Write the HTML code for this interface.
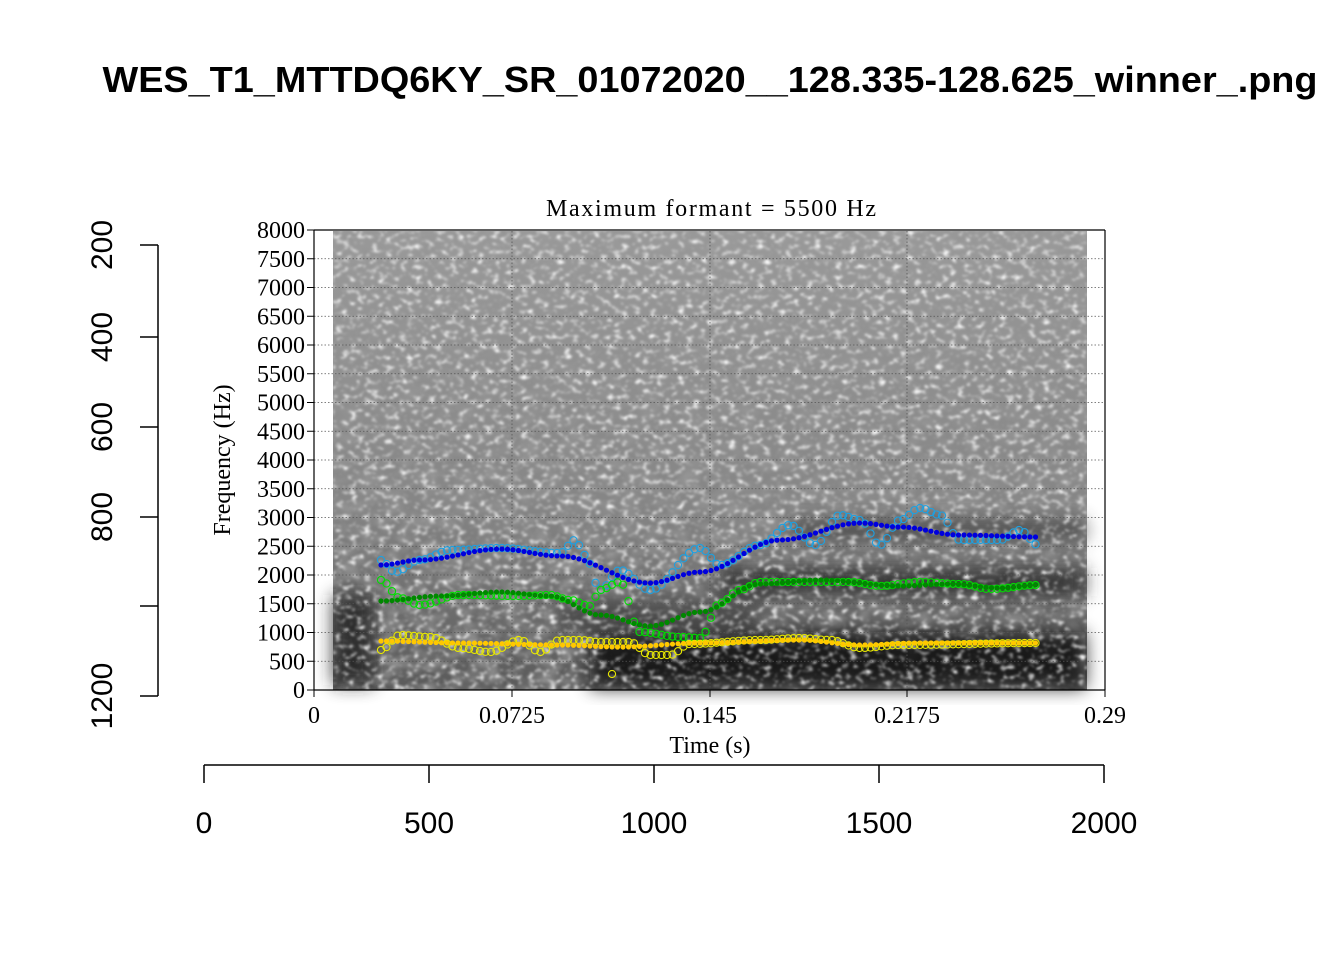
<!DOCTYPE html>
<html><head><meta charset="utf-8"><style>
html,body{margin:0;padding:0;background:#fff;width:1344px;height:960px;overflow:hidden}
svg{display:block}
</style></head><body>
<svg id="s" width="1344" height="960" xmlns="http://www.w3.org/2000/svg">
<defs>
<filter id="noise" x="0" y="0" width="100%" height="100%">
<feTurbulence type="fractalNoise" baseFrequency="0.14 0.2" numOctaves="2" seed="7" result="t"/>
<feColorMatrix in="t" type="matrix" values="0 0 0 0 1  0 0 0 0 1  0 0 0 0 1  3.5 0 0 0 -1.85" />
<feGaussianBlur stdDeviation="1"/>
</filter>
<filter id="noise2" x="0" y="0" width="100%" height="100%">
<feTurbulence type="fractalNoise" baseFrequency="0.05 0.07" numOctaves="2" seed="3" result="t"/>
<feColorMatrix in="t" type="matrix" values="0 0 0 0 0.3  0 0 0 0 0.3  0 0 0 0 0.3  2 0 0 0 -0.8" />
</filter>
<filter id="bl"><feGaussianBlur stdDeviation="9"/></filter>
<linearGradient id="g1" x1="0" y1="0" x2="0" y2="1">
<stop offset="0" stop-color="#9a9a9a"/><stop offset="0.6" stop-color="#858585"/><stop offset="1" stop-color="#5a5a5a"/>
</linearGradient>
</defs>
<text x="710" y="92" font-family="Liberation Sans, sans-serif" font-weight="bold" font-size="36" text-anchor="middle" textLength="1215" lengthAdjust="spacingAndGlyphs">WES_T1_MTTDQ6KY_SR_01072020__128.335-128.625_winner_.png</text>

<g stroke="#000" stroke-width="1.5" fill="none">
<line x1="158" y1="245" x2="158" y2="696"/>
<line x1="140" y1="245" x2="158" y2="245"/><line x1="140" y1="337" x2="158" y2="337"/>
<line x1="140" y1="427" x2="158" y2="427"/><line x1="140" y1="517" x2="158" y2="517"/>
<line x1="140" y1="606" x2="158" y2="606"/><line x1="140" y1="696" x2="158" y2="696"/>
<line x1="204" y1="765" x2="1104" y2="765"/>
<line x1="204" y1="765" x2="204" y2="783"/><line x1="429" y1="765" x2="429" y2="783"/>
<line x1="654" y1="765" x2="654" y2="783"/><line x1="879" y1="765" x2="879" y2="783"/>
<line x1="1104" y1="765" x2="1104" y2="783"/>
</g>
<g font-family="Liberation Sans, sans-serif" font-size="30" fill="#000" text-anchor="middle">
<text transform="translate(112,245) rotate(-90)">200</text>
<text transform="translate(112,337) rotate(-90)">400</text>
<text transform="translate(112,427) rotate(-90)">600</text>
<text transform="translate(112,517) rotate(-90)">800</text>
<text transform="translate(112,696) rotate(-90)">1200</text>
<text x="204" y="833">0</text><text x="429" y="833">500</text><text x="654" y="833">1000</text>
<text x="879" y="833">1500</text><text x="1104" y="833">2000</text>
</g>

<g>
<rect x="333" y="231" width="754" height="459" fill="url(#g1)"/>
<rect x="333" y="231" width="754" height="459" filter="url(#noise2)"/>
<g filter="url(#bl)" opacity="0.85">
<rect x="590" y="632" width="495" height="56" fill="#111"/>
<rect x="333" y="595" width="40" height="90" fill="#222"/>
<rect x="720" y="568" width="365" height="28" fill="#2a2a2a"/>
<rect x="790" y="520" width="295" height="20" fill="#444"/>
<rect x="560" y="600" width="200" height="30" fill="#444"/>
</g>
<rect x="333" y="231" width="754" height="459" filter="url(#noise)" opacity="0.95"/>
</g>

<g id="grid" stroke="#555" stroke-width="0.8" stroke-dasharray="1.5,2"></g>
<g stroke="#000" stroke-width="1.2" fill="none">
<line x1="314" y1="230" x2="1105" y2="230"/>
<line x1="314" y1="230" x2="314" y2="690"/>
<line x1="1105" y1="230" x2="1105" y2="690"/>
<line x1="314" y1="690" x2="1105" y2="690"/>
</g>
<g id="ticks" stroke="#000" stroke-width="1"></g>
<g id="ylab" font-family="Liberation Serif, serif" font-size="24" text-anchor="end"></g>
<g font-family="Liberation Serif, serif" font-size="24" text-anchor="middle">
<text x="314" y="723">0</text><text x="512" y="723">0.0725</text><text x="710" y="723">0.145</text>
<text x="907" y="723">0.2175</text><text x="1105" y="723">0.29</text>
<text x="710" y="753">Time (s)</text>
<text x="711" y="216" textLength="330" lengthAdjust="spacing">Maximum formant  =  5500 Hz</text>
<text transform="translate(230,460) rotate(-90)">Frequency (Hz)</text>
</g>
<g id="tracks"></g>
</svg>
<script>
var NS="http://www.w3.org/2000/svg";
function el(p,t,a){var e=document.createElementNS(NS,t);for(var k in a)e.setAttribute(k,a[k]);p.appendChild(e);return e;}
var grid=document.getElementById('grid'),ticks=document.getElementById('ticks'),ylab=document.getElementById('ylab');
for(var v=0;v<=8000;v+=500){var y=690-v*0.0575;
 if(v>0&&v<8000)el(grid,'line',{x1:314,x2:1105,y1:y,y2:y});
 el(ticks,'line',{x1:307,x2:314,y1:y,y2:y});
 var t=el(ylab,'text',{x:305,y:y+8});t.textContent=v;}
[512,710,907].forEach(function(x){el(grid,'line',{x1:x,x2:x,y1:231,y2:690});});
[314,512,710,907,1105].forEach(function(x){el(ticks,'line',{x1:x,x2:x,y1:690,y2:697});});
function interp(k,x){for(var i=0;i<k.length-1;i++){if(x>=k[i][0]&&x<=k[i+1][0]){var f=(x-k[i][0])/(k[i+1][0]-k[i][0]);f=(1-Math.cos(f*Math.PI))/2;return k[i][1]+(k[i+1][1]-k[i][1])*f;}}return k[k.length-1][1];}
var tr=document.getElementById('tracks');
function draw(k,col,open){for(var x=381;x<=1038.5;x+=5.5){var y=interp(k,x);
 if(open)el(tr,'circle',{cx:x,cy:y,r:3.6,fill:'none',stroke:col,'stroke-width':1.1});
 else el(tr,'circle',{cx:x,cy:y,r:2.6,fill:col});}}
draw([[381,560],[395,572],[420,560],[450,550],[500,548],[560,553],[575,540],[585,555],[600,590],[620,570],[650,590],[700,548],[720,565],[760,545],[790,525],[815,545],[840,515],[860,520],[880,545],[900,520],[920,508],[940,515],[960,540],[1000,540],[1020,530],[1038,545]],'#1ea0e0',true);
draw([[381,580],[400,598],[420,605],[460,595],[520,596],[550,595],[570,600],[590,606],[600,590],[620,582],[640,632],[680,637],[700,638],[720,603],[740,590],[760,582],[800,582],[850,582],[880,586],[920,582],[960,584],[990,589],[1038,585]],'#00dd00',true);
draw([[381,650],[400,635],[430,637],[460,648],[490,652],[520,640],[540,652],[560,640],[580,640],[600,642],[630,642],[650,655],[670,655],[690,644],[760,640],[800,638],[830,640],[860,648],[900,645],[1038,643]],'#e8e800',true);
el(tr,'circle',{cx:612,cy:674,r:3.6,fill:'none',stroke:'#e8e800','stroke-width':1.1});
draw([[381,565],[420,560],[500,549],[560,556],[650,583],[700,572],[780,540],[860,523],[900,527],[960,535],[1038,537]],'#0000dd',false);
draw([[381,601],[440,596],[500,592],[550,596],[600,615],[650,626],[700,612],[760,584],[820,580],[900,586],[950,584],[1000,588],[1038,585]],'#008800',false);
draw([[381,641],[460,643],[560,645],[620,647],[700,643],[800,640],[860,645],[920,643],[1038,643]],'#ffc800',false);
</script>
</body></html>
